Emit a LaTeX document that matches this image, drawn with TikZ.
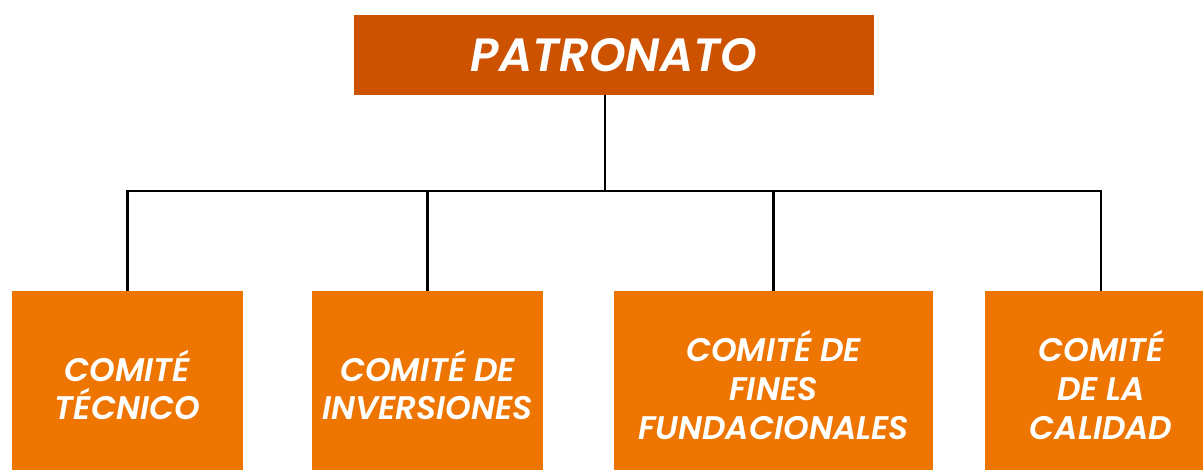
\documentclass[tikz,border=0pt]{standalone}
\usepackage{fontspec}
\newfontfamily\gothic{Poppins}[BoldFont={* SemiBold},BoldItalicFont={* SemiBold Italic}]
\usepackage{tikz}
\usetikzlibrary{positioning}
\definecolor{patronato}{RGB}{204,82,0}
\definecolor{comite}{RGB}{238,117,0}

\begin{document}
\begin{tikzpicture}[x=0.75pt,y=-0.75pt,
   cabeza/.style={fill=patronato,text=white,inner sep=0pt,
      minimum width=390pt,minimum height=60pt,
      font=\gothic\bfseries\itshape\fontsize{35}{40}\selectfont},
   comite/.style={fill=comite,text=white,inner sep=0pt,align=center,
      minimum height=141pt,
      font=\gothic\bfseries\itshape\fontsize{24.5}{29}\selectfont},
   rama/.style={line width=1.9pt}]
\useasboundingbox (0,0) rectangle (1203,470);
\clip (0,0) rectangle (1203,470);
\node[cabeza] (patronato) at (614,55) {PATRONATO};
\coordinate (bus) at (605,191);
\node[comite,minimum width=173pt] (tecnico) at (127.5,385) {COMITÉ\\TÉCNICO};
\node[comite,minimum width=173pt] (inversiones) at (427.5,385) {COMITÉ DE\\INVERSIONES};
\node[comite,minimum width=239pt] (fines) at (773.5,385) {COMITÉ DE\\FINES\\FUNDACIONALES};
\node[comite,minimum width=174pt] (calidad) at (1101,385) {COMITÉ\\DE LA\\CALIDAD};
% lineas
\draw[rama] (patronato.south -| bus) -- (bus);
\foreach \c in {tecnico,inversiones,fines,calidad}
   \draw[rama] (bus) -| (\c.north);
\end{tikzpicture}
\end{document}
